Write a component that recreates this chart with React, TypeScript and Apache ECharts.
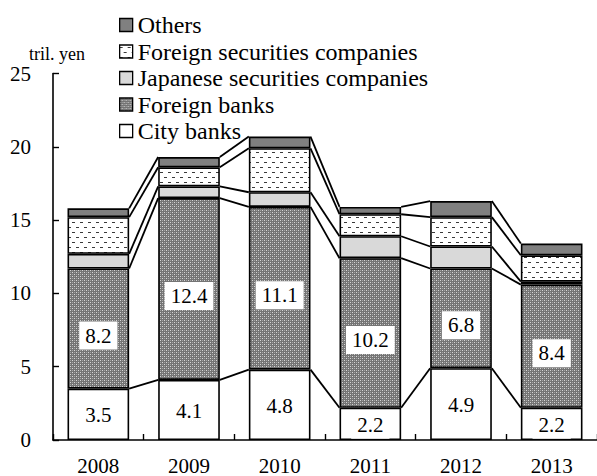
import React, { useEffect, useRef } from "react";
import * as echarts from "echarts";

const years = ["2008", "2009", "2010", "2011", "2012", "2013"];
const cityBanks = [3.5, 4.1, 4.8, 2.2, 4.9, 2.2];
const foreignBanks = [8.2, 12.4, 11.1, 10.2, 6.8, 8.4];
const japaneseSecurities = [1.0, 0.8, 1.0, 1.5, 1.5, 0.2];
const foreignSecurities = [2.5, 1.3, 3.0, 1.5, 2.0, 1.8];
const others = [0.6, 0.7, 0.8, 0.5, 1.1, 0.8];

const seriesNames = [
  "City banks",
  "Foreign banks",
  "Japanese securities companies",
  "Foreign securities companies",
  "Others",
];
const legendOrder = [
  "Others",
  "Foreign securities companies",
  "Japanese securities companies",
  "Foreign banks",
  "City banks",
];
const yTicks = { min: 0, max: 25, interval: 5 };

const FONT = "Liberation Serif";
const BAR_RATIO = 0.68;

function makeDotPattern() {
  const c = document.createElement("canvas");
  c.width = 4;
  c.height = 4;
  const ctx = c.getContext("2d")!;
  ctx.fillStyle = "#747474";
  ctx.fillRect(0, 0, 4, 4);
  ctx.fillStyle = "#d6d6d6";
  ctx.fillRect(0, 0, 1, 1);
  ctx.fillRect(2, 2, 1, 1);
  ctx.fillStyle = "#a4a4a4";
  ctx.fillRect(2, 0, 1, 1);
  ctx.fillRect(0, 2, 1, 1);
  return { image: c, repeat: "repeat", imageWidth: 4, imageHeight: 4 };
}

function makeDashPattern() {
  const c = document.createElement("canvas");
  c.width = 8;
  c.height = 10;
  const ctx = c.getContext("2d")!;
  ctx.fillStyle = "#ffffff";
  ctx.fillRect(0, 0, 8, 10);
  ctx.fillStyle = "#3a3a3a";
  ctx.fillRect(0, 2, 3, 1);
  ctx.fillRect(4, 7, 3, 1);
  return { image: c, repeat: "repeat", imageWidth: 8, imageHeight: 10 };
}

export default function App() {
  const ref = useRef<HTMLDivElement>(null);
  useEffect(() => {
    if (!ref.current) return;
    const chart = echarts.init(ref.current, null, { renderer: "svg" });
    const dots = makeDotPattern();
    const dashes = makeDashPattern();
    const data = [cityBanks, foreignBanks, japaneseSecurities, foreignSecurities, others];
    const colors: any[] = ["#ffffff", dots, "#d9d9d9", dashes, "#808080"];

    const labelStyle = {
      show: true,
      position: "inside",
      color: "#000",
      fontFamily: FONT,
      fontSize: 21,
      backgroundColor: "#ffffff",
      padding: [4, 6, 3, 6],
      formatter: (p: any) => Number(p.value).toFixed(1),
    };

    const barSeries = seriesNames.map((name, k) => ({
      name,
      type: "bar",
      stack: "total",
      barWidth: BAR_RATIO * 100 + "%",
      data: data[k],
      itemStyle: { color: colors[k], borderColor: "#000", borderWidth: 1.6 },
      label:
        k === 0
          ? { ...labelStyle, offset: [0, 1] }
          : k === 1
          ? { ...labelStyle, offset: [0, 7] }
          : { show: false },
      emphasis: { disabled: true },
    }));

    const cumulative = years.map((_, i) => {
      let s = 0;
      return data.map((arr) => (s += arr[i]));
    });

    const connectors = {
      type: "custom",
      name: "connectors",
      data: years.slice(0, -1).map((_, i) => [i, 0]),
      encode: { x: 0, y: 1 },
      z: 3,
      silent: true,
      clip: false,
      renderItem: (params: any, api: any) => {
        const i = api.value(0);
        const half = (api.size([1, 0])[0] * BAR_RATIO) / 2;
        const children = cumulative[i].map((v: number, k: number) => {
          const a = api.coord([i, v]);
          const b = api.coord([i + 1, cumulative[i + 1][k]]);
          return {
            type: "line",
            shape: { x1: a[0] + half, y1: a[1], x2: b[0] - half, y2: b[1] },
            style: { stroke: "#000", lineWidth: 1.8 },
          };
        });
        return { type: "group", children };
      },
    };

    chart.setOption({
      animation: false,
      backgroundColor: "#ffffff",
      textStyle: { fontFamily: FONT },
      legend: {
        data: legendOrder,
        orient: "vertical",
        left: 114,
        top: 8,
        itemWidth: 13,
        itemHeight: 13,
        itemGap: 2.5,
        icon: "rect",
        selectedMode: false,
        itemStyle: { borderColor: "#000", borderWidth: 1.3 },
        textStyle: { fontFamily: FONT, fontSize: 24, color: "#000", lineHeight: 24 },
      },
      grid: { left: 53, right: 0, top: 73.5, bottom: 34.5 },
      xAxis: {
        type: "category",
        data: years,
        axisLine: { lineStyle: { color: "#000", width: 1.6 } },
        axisTick: { show: true, inside: true, length: 6, alignWithLabel: false, lineStyle: { color: "#000", width: 1.4 } },
        axisLabel: { color: "#000", fontFamily: FONT, fontSize: 21, margin: 15 },
      },
      yAxis: {
        type: "value",
        min: yTicks.min,
        max: yTicks.max,
        interval: yTicks.interval,
        name: "tril. yen",
        nameLocation: "end",
        nameGap: 10,
        nameTextStyle: { color: "#000", fontFamily: FONT, fontSize: 18, padding: [0, 0, 0, 8] },
        axisLine: { show: true, lineStyle: { color: "#000", width: 1.6 } },
        axisTick: { show: true, inside: true, length: 6, lineStyle: { color: "#000", width: 1.4 } },
        axisLabel: { color: "#000", fontFamily: FONT, fontSize: 21, margin: 22 },
        splitLine: { show: false },
      },
      series: [...barSeries, connectors],
    });
    return () => chart.dispose();
  }, []);
  return (
    <div
      ref={ref}
      style={{ position: "fixed", left: 0, top: 0, width: 597, height: 476 }}
    />
  );
}
